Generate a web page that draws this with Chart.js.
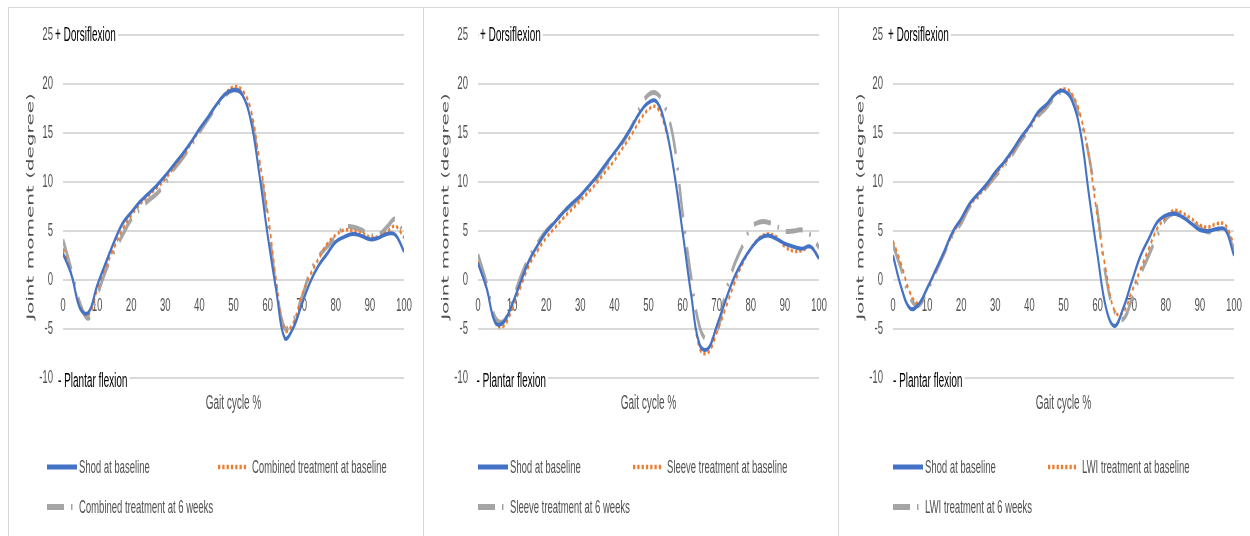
<!DOCTYPE html>
<html>
<head>
<meta charset="utf-8">
<script src="https://cdn.jsdelivr.net/npm/chart.js@4.4.1/dist/chart.umd.min.js"></script>
<style>
  html, body { margin: 0; padding: 0; background: #fff; }
  body { width: 1250px; height: 536px; position: relative; overflow: hidden; }
  .panel { position: absolute; top: 7px; width: 414px; height: 540px; border-left: 1px solid #d9d9d9; border-top: 1px solid #d9d9d9; overflow: hidden; }
  /* charts are laid out twice as wide, then squeezed to the panel width */
  .squash { width: 828px; height: 528px; transform: scaleX(0.5); transform-origin: 0 0; }
</style>
</head>
<body>
<div class="panel" style="left:8px"><div class="squash"><canvas id="chartCombined"></canvas></div></div>
<div class="panel" style="left:423px"><div class="squash"><canvas id="chartSleeve"></canvas></div></div>
<div class="panel" style="left:838px"><div class="squash"><canvas id="chartLwi"></canvas></div></div>

<script>
// Gait cycle (%) sample points shared by every curve
const gaitPct = [0, 2.5, 5, 7.5, 10, 12.5, 15, 17.5, 20, 22.5, 25, 27.5, 30, 32.5, 35, 37.5, 40, 42.5, 45, 47.5,
    50, 52.5, 55, 57.5, 60, 62.5, 65, 67.5, 70, 72.5, 75, 77.5, 80, 82.5, 85, 87.5, 90, 92.5, 95, 97.5, 100];

// Ankle joint moment (degree)
const shodCombined = [2.7, 0.5, -2.9, -3.3, -0.6, 1.7, 3.9, 5.8, 6.9, 7.95, 8.8, 9.65, 10.65, 11.75, 12.85, 14.05, 15.4, 16.6, 17.9, 18.95,
    19.4, 18.95, 16.4, 11.0, 4.6, -1.0, -5.9, -4.9, -2.5, -0.2, 1.5, 2.7, 3.9, 4.4, 4.7, 4.5, 4.15, 4.3, 4.7, 4.6, 2.9];
const combinedBaseline = [3.2, 0.6, -2.7, -3.5, -1.0, 1.3, 3.3, 5.2, 6.6, 7.7, 8.6, 9.4, 10.3, 11.5, 12.6, 13.9, 15.3, 16.6, 17.9, 19.0,
    19.7, 19.4, 17.5, 12.5, 7.0, 0.0, -5.1, -4.4, -1.6, 0.5, 2.2, 3.7, 4.6, 5.1, 5.0, 4.8, 4.4, 4.4, 4.9, 5.5, 4.3];
const combined6Weeks = [4.1, 1.0, -2.4, -3.9, -1.6, 0.9, 2.9, 4.6, 6.2, 7.2, 8.1, 8.8, 9.9, 11.3, 12.4, 13.7, 15.1, 16.4, 17.7, 18.8,
    19.4, 19.0, 16.8, 12.0, 6.3, -0.5, -4.9, -4.1, -1.8, 0.8, 2.4, 3.4, 4.4, 5.4, 5.4, 5.1, 4.6, 4.6, 5.4, 6.2, 4.6];

const shodSleeve = [1.7, -0.8, -4.3, -4.3, -2.5, -0.2, 2.0, 3.55, 4.9, 5.9, 6.9, 7.8, 8.6, 9.6, 10.65, 11.85, 13.0, 14.2, 15.6, 17.1,
    18.1, 18.15, 15.7, 11.0, 4.9, -1.5, -6.6, -7.0, -4.7, -2.2, 0.15, 1.85, 3.2, 4.2, 4.55, 4.2, 3.7, 3.4, 3.2, 3.4, 2.2];
const sleeveBaseline = [1.9, -0.9, -4.3, -4.7, -3.0, -0.7, 1.5, 3.0, 4.3, 5.3, 6.3, 7.2, 8.1, 9.0, 10.0, 11.1, 12.2, 13.5, 14.8, 16.3,
    17.4, 17.6, 15.4, 11.2, 5.0, -1.3, -7.0, -7.4, -5.4, -3.0, -0.5, 1.6, 3.2, 4.3, 4.7, 4.4, 3.4, 2.95, 3.0, 3.4, 2.3];
const sleeve6Weeks = [2.6, -0.3, -3.8, -4.2, -2.2, 0.3, 2.3, 3.8, 5.0, 5.9, 6.9, 7.7, 8.5, 9.4, 10.5, 11.7, 12.8, 14.1, 15.6, 17.6,
    18.9, 19.0, 17.5, 14.0, 6.8, 0.3, -4.8, -6.2, -5.4, -1.5, 1.4, 3.4, 5.3, 5.9, 5.9, 5.5, 5.0, 5.0, 5.1, 4.6, 3.3];

const shodLwi = [2.5, -0.85, -2.9, -2.5, -0.85, 1.0, 2.9, 4.9, 6.25, 7.8, 8.8, 9.8, 11.0, 12.0, 13.2, 14.55, 15.7, 17.1, 17.9, 18.95,
    19.3, 18.3, 15.05, 8.6, 2.5, -2.9, -4.7, -2.9, -0.2, 2.4, 4.2, 5.9, 6.6, 6.75, 6.4, 5.75, 5.1, 5.0, 5.2, 5.1, 2.5];
const lwiBaseline = [4.0, 1.5, -1.3, -2.4, -0.9, 0.9, 2.8, 4.7, 6.1, 7.6, 8.6, 9.6, 10.8, 11.8, 13.0, 14.4, 15.6, 16.9, 17.8, 18.9,
    19.5, 18.95, 16.75, 12.4, 6.3, 0.85, -3.2, -3.3, -1.2, 1.0, 3.2, 5.25, 6.4, 7.1, 6.8, 6.25, 5.6, 5.4, 5.75, 5.6, 3.6];
const lwi6Weeks = [3.6, 1.0, -1.8, -2.6, -1.1, 0.8, 2.7, 4.6, 5.8, 7.5, 8.5, 9.5, 10.6, 11.6, 12.8, 14.2, 15.4, 16.7, 17.6, 18.7,
    19.2, 18.7, 16.3, 12.6, 6.9, 0.2, -3.2, -4.0, -2.0, 0.5, 2.5, 4.5, 6.2, 6.8, 6.5, 5.9, 5.3, 4.9, 5.2, 5.2, 3.0];

const yTicks = [-10, -5, 0, 5, 10, 15, 20, 25];
const xTicks = [0, 10, 20, 30, 40, 50, 60, 70, 80, 90, 100];

const textGrey = '#505050';
const gridGrey = '#d9d9d9';
Chart.defaults.font.family = "'Liberation Sans', Arial, sans-serif";

// Direction notes at the top / bottom gridlines, the x caption and a two-row legend
const panelText = {
    id: 'panelText',
    beforeDatasetsDraw(chart, args, opts) {
        const ctx = chart.ctx;
        const yScale = chart.scales.y;
        ctx.save();
        ctx.font = '20px "Liberation Sans", Arial, sans-serif';
        ctx.textBaseline = 'middle';
        const notes = [['+ Dorsiflexion', opts.topX, 25, 0], ['- Plantar flexion', opts.bottomX, -10, 3]];
        notes.forEach(([text, x, v, dy]) => {
            const py = yScale.getPixelForValue(v);
            const w = ctx.measureText(text).width;
            ctx.fillStyle = '#fff';
            ctx.fillRect(x - 2, py - 3, w + 6, 6);
            ctx.fillStyle = '#000';
            ctx.fillText(text, x, py + dy);
        });
        const area = chart.chartArea;
        ctx.fillStyle = textGrey;
        ctx.textAlign = 'center';
        ctx.fillText('Gait cycle %', (area.left + area.right) / 2, 395);
        ctx.restore();
    },
    afterDraw(chart, args, opts) {
        const ctx = chart.ctx;
        const slots = [[opts.legendX, 459], [418, 459], [opts.legendX, 499]];
        ctx.save();
        ctx.font = '19px "Liberation Sans", Arial, sans-serif';
        ctx.textBaseline = 'middle';
        chart.data.datasets.forEach((ds, i) => {
            const [x, y] = slots[i];
            ctx.strokeStyle = ds.borderColor;
            ctx.lineWidth = ds.borderWidth + 1;
            ctx.lineCap = 'butt';
            ctx.setLineDash(ds.borderDash || []);
            ctx.beginPath();
            ctx.moveTo(x, y);
            ctx.lineTo(x + 60, y);
            ctx.stroke();
            ctx.setLineDash([]);
            ctx.fillStyle = textGrey;
            ctx.fillText(ds.label, x + (i === 1 ? 68 : 64), y + 1);
        });
        ctx.restore();
    }
};

function points(values) {
    return gaitPct.map((x, i) => ({ x: x, y: values[i] }));
}

function makeChart(canvasId, labels, series, place) {
    const ctx = document.getElementById(canvasId).getContext('2d');
    return new Chart(ctx, {
        type: 'line',
        data: {
            datasets: [{
                label: labels[0],
                data: points(series[0]),
                borderColor: '#4472c4',
                borderWidth: 4
            }, {
                label: labels[1],
                data: points(series[1]),
                borderColor: '#ed7d31',
                borderWidth: 3.5,
                borderDash: [4.5, 4.1]
            }, {
                label: labels[2],
                data: points(series[2]),
                borderColor: '#a5a5a5',
                borderWidth: 5,
                borderDash: [34, 14, 3, 14]
            }]
        },
        options: {
            responsive: true,
            maintainAspectRatio: false,
            animation: false,
            layout: { padding: { left: 20, right: 38, top: 27, bottom: 158 } },
            elements: {
                point: { radius: 0 },
                line: { tension: 0.4, fill: false, borderCapStyle: 'butt' }
            },
            scales: {
                x: {
                    type: 'linear',
                    position: { y: 0 },
                    min: 0,
                    max: 100,
                    afterBuildTicks: scale => { scale.ticks = xTicks.map(v => ({ value: v })); },
                    grid: { display: false },
                    border: { display: false },
                    ticks: { color: textGrey, font: { size: 19 }, padding: 6 }
                },
                y: {
                    min: -10,
                    max: 25,
                    afterBuildTicks: scale => { scale.ticks = yTicks.map(v => ({ value: v })); },
                    afterFit: scale => { scale.width = 88; },
                    grid: { color: gridGrey, lineWidth: 2, drawTicks: false },
                    border: { display: false },
                    // small lineHeight keeps the label padding from pushing the plot down
                    ticks: { color: textGrey, font: { size: 19, lineHeight: 0.6 }, padding: 20 },
                    title: {
                        display: true,
                        text: 'Joint moment (degree)',
                        color: textGrey,
                        font: { family: "'DejaVu Sans', sans-serif", size: 20 },
                        padding: { top: 12, bottom: 0 }
                    }
                }
            },
            plugins: {
                legend: { display: false },
                tooltip: { enabled: false },
                panelText: place
            }
        },
        plugins: [panelText]
    });
}

makeChart('chartCombined',
    ['Shod at baseline', 'Combined treatment at baseline', 'Combined treatment at 6 weeks'],
    [shodCombined, combinedBaseline, combined6Weeks],
    { topX: 92, bottomX: 98, legendX: 76 });

makeChart('chartSleeve',
    ['Shod at baseline', 'Sleeve treatment at baseline', 'Sleeve treatment at 6 weeks'],
    [shodSleeve, sleeveBaseline, sleeve6Weeks],
    { topX: 112, bottomX: 105, legendX: 108 });

makeChart('chartLwi',
    ['Shod at baseline', 'LWI treatment at baseline', 'LWI treatment at 6 weeks'],
    [shodLwi, lwiBaseline, lwi6Weeks],
    { topX: 98, bottomX: 108, legendX: 108 });
</script>
</body>
</html>
